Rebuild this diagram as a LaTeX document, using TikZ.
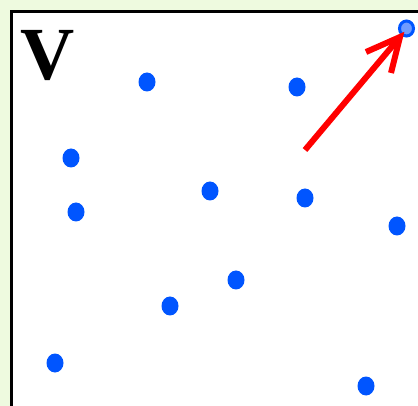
\documentclass[tikz,border=0pt]{standalone}
\usepackage{fontspec}
\setmainfont{Liberation Serif}
\definecolor{bggreen}{HTML}{EEFADF}
\definecolor{dotblue}{HTML}{0055FF}
\definecolor{lightblue}{HTML}{6F9BFF}
\definecolor{arrred}{HTML}{FF0000}
\begin{document}
\begin{tikzpicture}[x=1pt,y=-1pt,
  dot/.style={ellipse,fill=dotblue,minimum width=17pt,minimum height=19pt,inner sep=0pt},
  hdot/.style={ellipse,fill=lightblue,draw=dotblue,line width=3pt,minimum width=14pt,minimum height=15pt,inner sep=0pt},
  arr/.style={draw=arrred,line width=6pt,line cap=butt,line join=miter}]
\usetikzlibrary{shapes.geometric}
\useasboundingbox (0,0) rectangle (418,406);
\fill[bggreen] (0,0) rectangle (418,406);
\draw[fill=white,line width=3pt] (11.5,11.5) rectangle (430,420);
\node[font=\bfseries\fontsize{75}{75}\selectfont,anchor=base] (V) at (48,80) {V};
\node[dot] (d1) at (147,82) {};
\node[dot] (d2) at (297,87) {};
\node[dot] (d3) at (71,158) {};
\node[dot] (d4) at (210,191) {};
\node[dot] (d5) at (305,198) {};
\node[dot] (d6) at (76,212) {};
\node[dot] (d7) at (397,226) {};
\node[dot] (d8) at (236,280) {};
\node[dot] (d9) at (170,306) {};
\node[dot] (d10) at (55,363) {};
\node[dot] (d11) at (366,386) {};
\node[hdot] (h) at (406.5,28.5) {};
\coordinate (s) at (305,150);
\coordinate (t) at (400,37);
\coordinate (w1) at (366,52);
\coordinate (w2) at (391,73);
\draw[arr] (s) -- (t);
\draw[arr] (w1) -- (t) -- (w2);
\end{tikzpicture}
\end{document}
